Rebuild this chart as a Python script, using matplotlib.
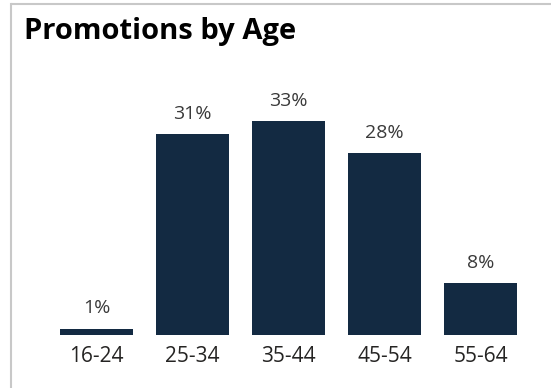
import matplotlib
matplotlib.use("Agg")
import matplotlib.pyplot as plt
from matplotlib.lines import Line2D

# promotions share per age band (percent)
age_bands = ['16-24', '25-34', '35-44', '45-54', '55-64']
promo_pct = [1, 31, 33, 28, 8]

BAR_COLOR = '#132a42'
TEXT_COLOR = '#252423'

plt.rcParams['font.family'] = ['Open Sans', 'DejaVu Sans']

W, H = 551, 388
fig = plt.figure(figsize=(W / 100, H / 100), dpi=100)
fig.patch.set_facecolor('white')
fig.patch.set_linewidth(0)

# light panel frame, only left and top edges show
frame_color = '#c8c8c8'
fig.add_artist(Line2D([11 / W, 11 / W], [0, 1 - 4 / H], transform=fig.transFigure,
                      color=frame_color, linewidth=1.5))
fig.add_artist(Line2D([11 / W, 1.02], [1 - 4 / H, 1 - 4 / H], transform=fig.transFigure,
                      color=frame_color, linewidth=1.5, solid_capstyle='butt'))

fig.text(24 / W, 1 - 31 / H, 'Promotions by Age', fontsize=21,
         fontweight='bold', color='black', ha='left', va='center')

ax = fig.add_axes([48.5 / W, 53 / H, 480 / W, (335 - 60) / H])
x = list(range(len(age_bands)))
ax.bar(x, promo_pct, width=0.77, color=BAR_COLOR)

ax.set_xlim(-0.5, 4.5)
ax.set_ylim(0, 42.4)

for xi, v in zip(x, promo_pct):
    ax.annotate(f'{v}%', (xi, v), xytext=(0, 11), textcoords='offset points',
                ha='center', va='baseline', fontsize=14, color='#3a3a3a')

ax.set_xticks(x)
ax.set_xticklabels(age_bands, fontsize=15, color=TEXT_COLOR)
ax.tick_params(axis='x', length=0, pad=8)
ax.set_yticks([])
for s in ax.spines.values():
    s.set_visible(False)
ax.patch.set_alpha(0)

fig.savefig('out.png', dpi=100, facecolor='white', edgecolor='none')
